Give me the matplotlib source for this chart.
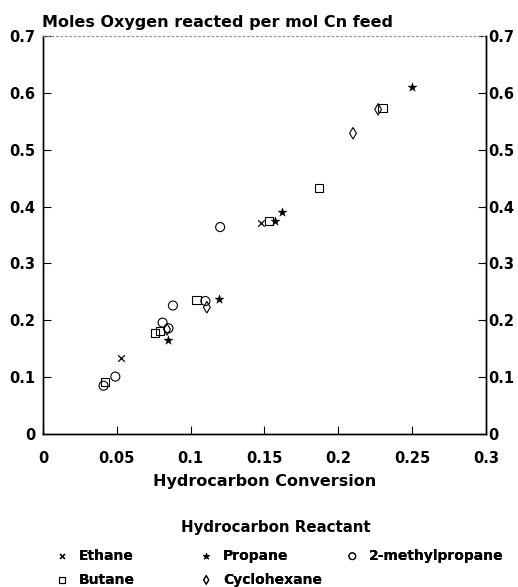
import numpy as np
import matplotlib.pyplot as plt

plt.rcParams['font.family'] = ['DejaVu Sans']
plt.rcParams['font.weight'] = 'bold'

# hydrocarbon conversion (x) vs moles O2 reacted per mol Cn feed (y)
ethane_x = [0.053, 0.148]
ethane_y = [0.134, 0.372]

propane_x = [0.085, 0.119, 0.157, 0.162, 0.250]
propane_y = [0.166, 0.238, 0.374, 0.391, 0.610]

methylpropane_x = [0.041, 0.049, 0.081, 0.085, 0.088, 0.110, 0.120]
methylpropane_y = [0.085, 0.101, 0.196, 0.186, 0.226, 0.234, 0.364]

butane_x = [0.042, 0.076, 0.079, 0.104, 0.153, 0.187, 0.230]
butane_y = [0.091, 0.178, 0.181, 0.236, 0.375, 0.433, 0.574]

cyclohexane_x = [0.084, 0.111, 0.210, 0.227]
cyclohexane_y = [0.184, 0.223, 0.529, 0.571]

xticks = [0, 0.05, 0.1, 0.15, 0.2, 0.25, 0.3]
xticklabels = ['0', '0.05', '0.1', '0.15', '0.2', '0.25', '0.3']
yticks = [0, 0.1, 0.2, 0.3, 0.4, 0.5, 0.6, 0.7]
yticklabels = ['0', '0.1', '0.2', '0.3', '0.4', '0.5', '0.6', '0.7']

fig = plt.figure(figsize=(5.18, 5.87), dpi=100)
ax = fig.add_axes([0.083, 0.2606, 0.855, 0.678])

h_eth = ax.scatter(ethane_x, ethane_y, marker='x', s=22, c='k', lw=0.9, label='Ethane')
h_but = ax.scatter(butane_x, butane_y, marker='s', s=34, facecolors='none',
                   edgecolors='k', lw=0.8, label='Butane')
h_pro = ax.scatter(propane_x, propane_y, marker='*', s=45, c='k', lw=0.3, label='Propane')
h_cyc = ax.scatter(cyclohexane_x, cyclohexane_y, marker='d', s=34, facecolors='none',
                   edgecolors='k', lw=0.8, label='Cyclohexane')
h_mp = ax.scatter(methylpropane_x, methylpropane_y, marker='o', s=42, facecolors='none',
                  edgecolors='k', lw=0.8, label='2-methylpropane')

ax.set_xlim(0, 0.3)
ax.set_ylim(0, 0.7)
ax.set_xticks(xticks)
ax.set_xticklabels(xticklabels)
ax.set_yticks(yticks)
ax.set_yticklabels(yticklabels)
ax.tick_params(direction='in', length=6, width=0.8, labelsize=10.5)
ax.tick_params(axis='x', pad=12)
ax.tick_params(axis='y', pad=5.5)

# right-hand scale
ax2 = ax.twinx()
ax2.set_ylim(0, 0.7)
ax2.set_yticks(yticks)
ax2.set_yticklabels(yticklabels)
ax2.tick_params(direction='in', length=6, width=0.8, labelsize=10.5, pad=2)

for a in [ax, ax2]:
    for side in ['left', 'right', 'bottom']:
        a.spines[side].set_linewidth(1.0)
    a.spines['top'].set_linestyle((0, (1, 3)))
    a.spines['top'].set_color('0.55')
    a.spines['top'].set_linewidth(0.8)

ax.set_xlabel('Hydrocarbon Conversion', fontsize=11.5, fontweight='bold', labelpad=6)
fig.text(0.082, 0.954, 'Moles Oxygen reacted per mol Cn feed', fontsize=11.5,
         fontweight='bold', ha='left', va='baseline')

# legend, laid out column by column
fig.text(0.533, 0.102, 'Hydrocarbon Reactant', fontsize=10.8, fontweight='bold',
         ha='center', va='center')
columns = [([h_eth, h_but], 0.104), ([h_pro, h_cyc], 0.382), ([h_mp], 0.664)]
for handles, x0 in columns:
    leg = fig.legend(handles=handles, loc='upper left', bbox_to_anchor=(x0, 0.065),
                     frameon=False, fontsize=10, borderpad=0, borderaxespad=0,
                     handlelength=1.2, handletextpad=0.6, labelspacing=0.7,
                     markerscale=0.75)
    fig.add_artist(leg)

fig.savefig('out.png', dpi=100)
